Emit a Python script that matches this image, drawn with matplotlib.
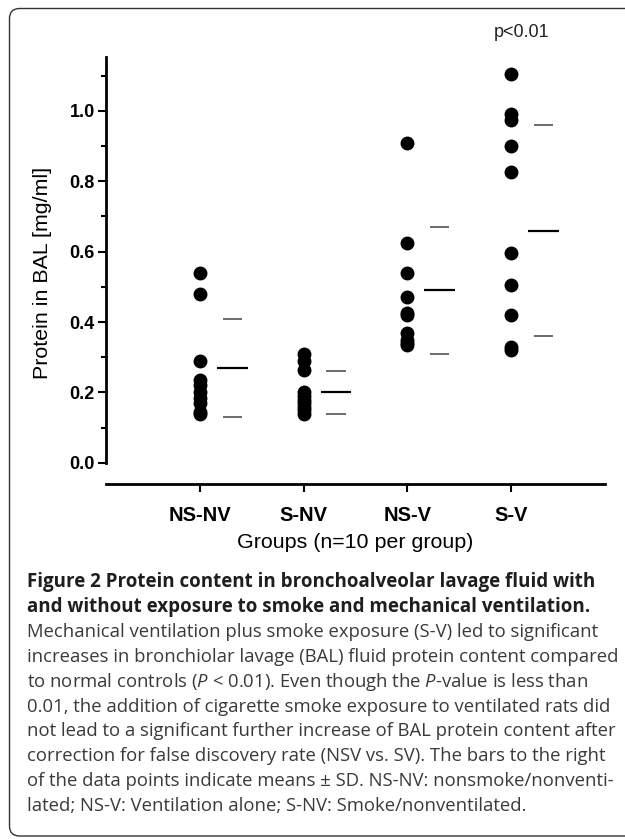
import numpy as np
import matplotlib
matplotlib.use("Agg")
import matplotlib.pyplot as plt
from matplotlib.patches import FancyBboxPatch
from matplotlib.transforms import IdentityTransform

plt.rcParams['font.family'] = ['Liberation Sans', 'DejaVu Sans']
plt.rcParams['mathtext.fontset'] = 'custom'
plt.rcParams['mathtext.rm'] = 'Open Sans'
plt.rcParams['mathtext.it'] = 'Open Sans:italic'

# data
groups = ['NS-NV', 'S-NV', 'NS-V', 'S-V']
ns_nv = [0.54, 0.48, 0.29, 0.235, 0.22, 0.20, 0.185, 0.17, 0.145, 0.14]
s_nv = [0.31, 0.29, 0.265, 0.20, 0.19, 0.18, 0.17, 0.16, 0.15, 0.14]
ns_v = [0.91, 0.625, 0.54, 0.47, 0.425, 0.42, 0.37, 0.35, 0.34, 0.335]
s_v = [1.105, 0.99, 0.975, 0.90, 0.825, 0.595, 0.505, 0.42, 0.33, 0.32]
means = [0.27, 0.20, 0.49, 0.66]
sd_hi = [0.41, 0.26, 0.67, 0.96]
sd_lo = [0.13, 0.14, 0.31, 0.36]

caption = [
    "Figure 2 Protein content in bronchoalveolar lavage fluid with",
    "and without exposure to smoke and mechanical ventilation.",
    "Mechanical ventilation plus smoke exposure (S-V) led to significant",
    "increases in bronchiolar lavage (BAL) fluid protein content compared",
    "to normal controls ($P$ < 0.01). Even though the $P$-value is less than",
    "0.01, the addition of cigarette smoke exposure to ventilated rats did",
    "not lead to a significant further increase of BAL protein content after",
    "correction for false discovery rate (NSV vs. SV). The bars to the right",
    "of the data points indicate means \u00b1 SD. NS-NV: nonsmoke/nonventi-",
    "lated; NS-V: Ventilation alone; S-NV: Smoke/nonventilated.",
]

fig = plt.figure(figsize=(6.25, 8.39), dpi=100)
ax = fig.add_axes([106/625, 1 - 484/839, 499/625, 427/839])

x = np.arange(1, len(groups) + 1)
for xi, vals in zip(x, [ns_nv, s_nv, ns_v, s_v]):
    ax.plot([xi] * len(vals), vals, 'o', color='black', markersize=9, clip_on=False)

ax.hlines(means, x + 0.165, x + 0.46, color='black', linewidth=1.6)
ax.hlines(sd_hi, x + 0.22, x + 0.405, color='#444444', linewidth=1.1)
ax.hlines(sd_lo, x + 0.22, x + 0.405, color='#444444', linewidth=1.1)

ax.set_xlim(0.093, 4.907)
ax.set_ylim(-0.06, 1.153)
ax.set_xticks(x)
ax.set_xticklabels(groups, fontsize=14.5, fontweight='bold')
ax.set_yticks(np.arange(0, 1.01, 0.2))
ax.set_yticklabels(['%.1f' % v for v in np.arange(0, 1.01, 0.2)], fontsize=13, fontweight='bold')
ax.set_yticks(np.arange(0.1, 1.15, 0.2), minor=True)

for s in ['top', 'right']:
    ax.spines[s].set_visible(False)
ax.spines['left'].set_bounds(0, 1.153)
ax.spines['left'].set_linewidth(2)
ax.spines['bottom'].set_linewidth(2)
ax.tick_params(axis='y', which='major', length=6, width=1.5, pad=2)
ax.tick_params(axis='y', which='minor', length=3.5, width=1.5)
ax.tick_params(axis='x', length=6, width=1.5, pad=10)

ax.set_ylabel('Protein in BAL [mg/ml]', fontsize=15.4, va='center')
ax.yaxis.set_label_coords((43 - 106) / 499, (484 - 273) / 427)
ax.set_xlabel('Groups (n=10 per group)', fontsize=15.4, va='center')
ax.xaxis.set_label_coords(0.5, (484 - 542) / 427)

ax.text(4.106, 1.222, 'p<0.01', fontsize=13, ha='center', va='center',
        color='#222222', clip_on=False)

# caption
for i, line in enumerate(caption):
    bold = i < 2
    fig.text(27/625, 1 - (582 + 24.9*i)/839, line, family='Open Sans',
             fontsize=13.5 if bold else 13.3, fontweight='bold' if bold else 'normal',
             color='#1e1e1e' if bold else '#3a3a3a', ha='left', va='center')

box = FancyBboxPatch((9.5, 3), 1200, 827.5, boxstyle='round,pad=0,rounding_size=10',
                     transform=IdentityTransform(), facecolor='none',
                     edgecolor='#333333', linewidth=1)
fig.add_artist(box)

fig.savefig('out.png', dpi=100)
